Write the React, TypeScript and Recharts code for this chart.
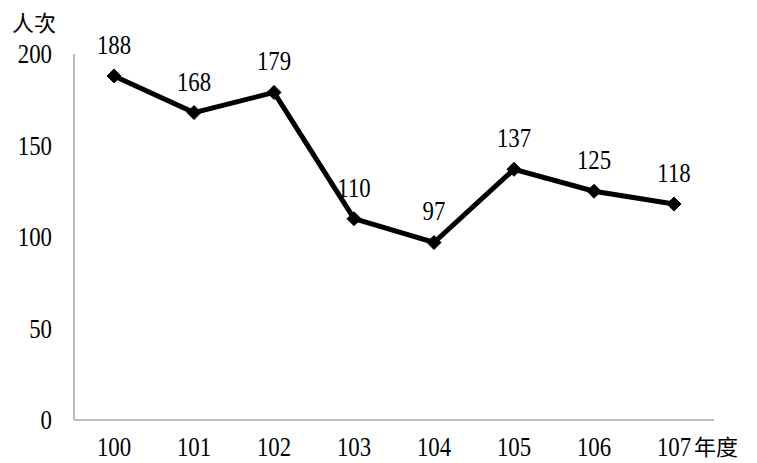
import { LineChart, Line, XAxis, YAxis, LabelList } from 'recharts';

const years = ['100', '101', '102', '103', '104', '105', '106', '107'];
const counts = [188, 168, 179, 110, 97, 137, 125, 118];
const yTicks = [0, 50, 100, 150, 200];
const xUnit = '年度';
const yUnit = '人次';

const data = years.map((y, i) => ({ year: y, count: counts[i] }));

const FONT = "'Liberation Serif', 'Noto Sans CJK TC', serif";
const CJK = "'Noto Sans CJK TC', sans-serif";

// digits in the reference are tall and narrow, so stretch them a little
function Num({ x, y, anchor, children }: any) {
  return (
    <text
      transform={`translate(${x},${y}) scale(0.95,1.12)`}
      textAnchor={anchor}
      fontSize={24}
      fill="#000"
      style={{ fontFamily: FONT }}
    >
      {children}
    </text>
  );
}

function Diamond(props: any) {
  const { cx, cy } = props;
  if (cx == null || cy == null) return null;
  const r = 7;
  return (
    <path
      d={`M${cx},${cy - r} L${cx + r},${cy} L${cx},${cy + r} L${cx - r},${cy} Z`}
      fill="#000"
      stroke="#000"
    />
  );
}

function XTick(props: any) {
  const { x, y, payload, index } = props;
  return (
    <g>
      <Num x={x} y={y + 28} anchor="middle">
        {payload.value}
      </Num>
      {index === years.length - 1 && (
        <text x={x + 20} y={y + 27} fontSize={22} fill="#000" style={{ fontFamily: CJK }}>
          {xUnit}
        </text>
      )}
    </g>
  );
}

function YTick(props: any) {
  const { x, y, payload } = props;
  return (
    <Num x={x} y={y + 9} anchor="end">
      {payload.value}
    </Num>
  );
}

function PointLabel(props: any) {
  const { x, y, value } = props;
  return (
    <Num x={x} y={y - 22} anchor="middle">
      {value}
    </Num>
  );
}

export default function App() {
  return (
    <div style={{ position: 'absolute', left: 0, top: 0, width: 757, height: 463, background: '#fff' }}>
      <LineChart width={757} height={463} data={data} margin={{ top: 54, right: 43, bottom: 0, left: 0 }}>
        <XAxis
          dataKey="year"
          height={43}
          stroke="#a6a6a6"
          strokeWidth={1.5}
          tickLine={false}
          tick={<XTick />}
          interval={0}
          padding={{ left: 40, right: 40 }}
        />
        <YAxis
          width={74}
          domain={[0, 200]}
          ticks={yTicks}
          stroke="#a6a6a6"
          strokeWidth={1.5}
          tickLine={false}
          tickMargin={16}
          tick={<YTick />}
        />
        <text x={12} y={31} fontSize={22} fill="#000" style={{ fontFamily: CJK }}>
          {yUnit}
        </text>
        <Line
          dataKey="count"
          stroke="#000"
          strokeWidth={5}
          dot={<Diamond />}
          activeDot={false}
          isAnimationActive={false}
        >
          <LabelList dataKey="count" content={<PointLabel />} />
        </Line>
      </LineChart>
    </div>
  );
}
